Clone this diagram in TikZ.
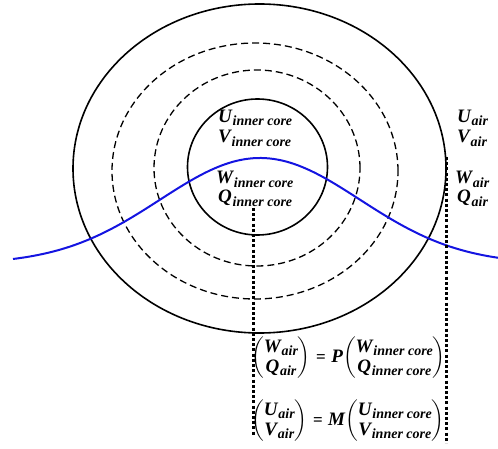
\documentclass[tikz,border=0pt]{standalone}
\usepackage{amsmath}
\usepackage{graphicx}
\usepackage{fontspec}
\newfontfamily\qfont{Liberation Serif}
\definecolor{curveblue}{RGB}{20,20,225}
\newcommand{\qsub}[2]{{\qfont\bfseries\itshape\fontsize{19}{22}\selectfont #1\kern0.8pt\raisebox{-3.5pt}{\fontsize{14}{17}\selectfont #2}}}
\newcommand{\qcol}[2]{{\left(\begin{array}{@{}c@{}}\mbox{#1}\\ \mbox{#2}\end{array}\right)}}
\newcommand{\qeq}{\mathrel{\mbox{\qfont\bfseries\fontsize{17}{20}\selectfont =}}}
\newcommand{\qop}[1]{\mbox{\qfont\bfseries\itshape\fontsize{19}{22}\selectfont #1}}
\begin{document}
\begin{tikzpicture}[x=1pt,y=-1pt,
  solidring/.style={draw=black,line width=1.6pt},
  dashring/.style={draw=black,line width=1.3pt,dash pattern=on 7pt off 4pt},
  dotline/.style={draw=black,line width=3pt,dash pattern=on 3pt off 2.2pt},
  wave/.style={draw=curveblue,line width=2pt},
  lbl/.style={inner sep=0pt,anchor=base west,font=\fontsize{16}{20}\selectfont\boldmath}]
\useasboundingbox (0,0) rectangle (498,449);
% rings
\draw[solidring] (259.5,168.5) ellipse [x radius=186.5pt, y radius=164.5pt];
\draw[dashring] (255,171) ellipse [x radius=143pt, y radius=128pt];
\draw[dashring] (257,168) ellipse [x radius=103pt, y radius=98pt];
\draw[solidring] (257.5,167) ellipse [x radius=70pt, y radius=68pt];
% blue wave
\draw[wave] plot[domain=13:498,samples=120,smooth] (\x,{264-106*exp(-0.5*((\x-260)/100)^2)});
% dotted lines
\coordinate (d1a) at (253,208);
\coordinate (d1b) at (253,436);
\coordinate (d2a) at (446,157);
\coordinate (d2b) at (446,443);
\draw[dotline] (d1a) -- (d1b);
\draw[dotline] (d2a) -- (d2b);
% inner core labels
\node[lbl] (uic) at (218,122.5) {\qsub{U}{inner core}};
\node[lbl] (vic) at (218,143) {\qsub{V}{inner core}};
\node[lbl] (wic) at (216,184) {\qsub{W}{inner core}};
\node[lbl] (qic) at (218,203) {\qsub{Q}{inner core}};
% air labels
\node[lbl] (uair) at (457,122.5) {\qsub{U}{air}};
\node[lbl] (vair) at (457,143) {\qsub{V}{air}};
\node[lbl] (wair) at (455,184) {\qsub{W}{air}};
\node[lbl] (qair) at (457,203) {\qsub{Q}{air}};
% equations
\node[lbl,anchor=west] (eqp) at (251,358) {$\qcol{\qsub{W}{air}}{\qsub{Q}{air}}\qeq \qop{P}\qcol{\qsub{W}{inner core}}{\qsub{Q}{inner core}}$};
\node[lbl,anchor=west] (eqm) at (251,421) {$\qcol{\qsub{U}{air}}{\qsub{V}{air}}\qeq \qop{M}\qcol{\qsub{U}{inner core}}{\qsub{V}{inner core}}$};
\end{tikzpicture}
\end{document}
